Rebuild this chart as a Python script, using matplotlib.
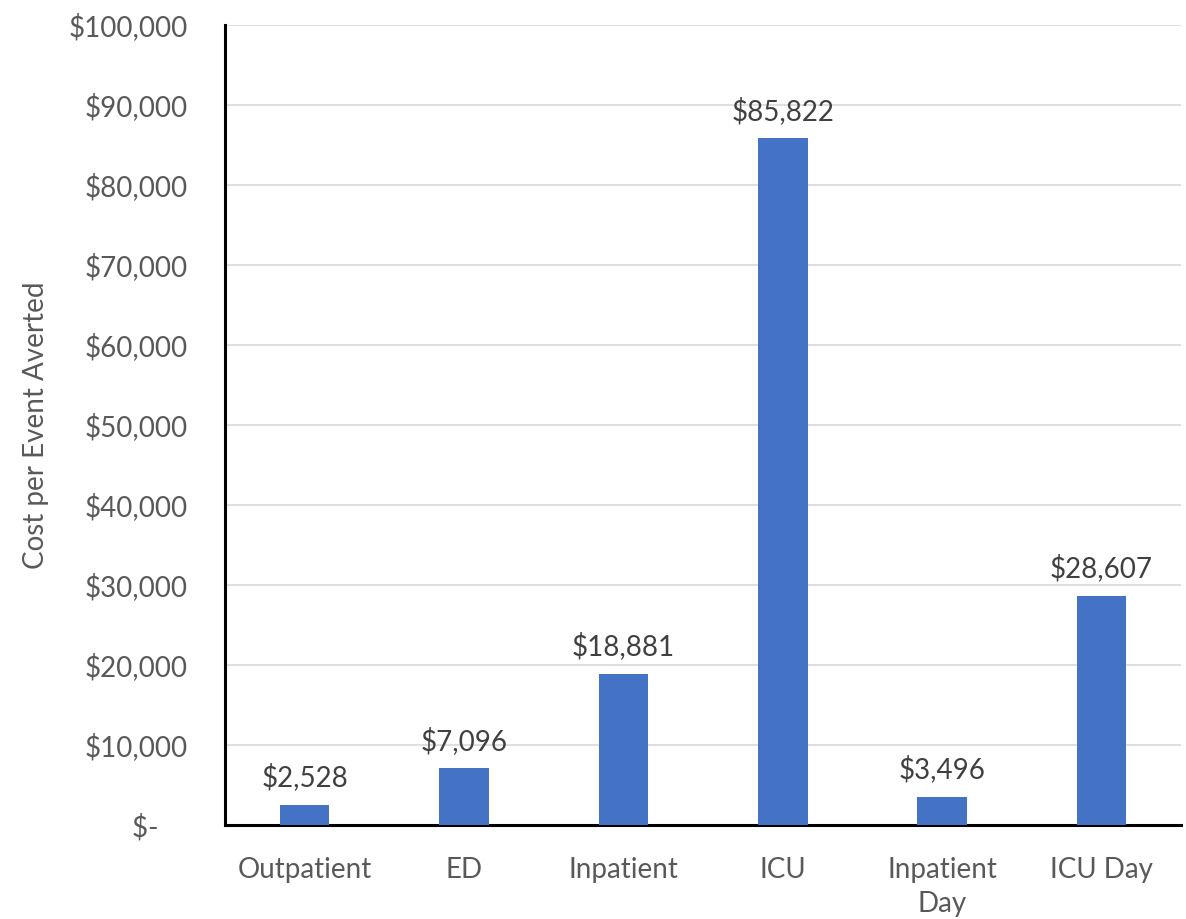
import matplotlib.pyplot as plt
from matplotlib.ticker import FuncFormatter

categories = ["Outpatient", "ED", "Inpatient", "ICU", "Inpatient\nDay", "ICU Day"]
costs = [2528, 7096, 18881, 85822, 3496, 28607]

plt.rcParams['font.family'] = ['Lato', 'DejaVu Sans']

fig = plt.figure(figsize=(11.86, 9.19), dpi=100)
ax = fig.add_axes([0.1897, 0.1023, 0.8063, 0.8705])

x = range(len(categories))
ax.bar(x, costs, width=0.31, color="#4472C4", zorder=3)

for xi, v in zip(x, costs):
    ax.text(xi, v + 1700, f"${v:,}", ha="center", va="bottom",
            fontsize=20, color="#404040")

def money(v, pos):
    if v == 0:
        return "$-    "
    return f"${int(v):,}"

ax.set_ylim(0, 100000)
ax.set_xlim(-0.5, 5.5)
ax.set_yticks(range(0, 100001, 10000))
ax.yaxis.set_major_formatter(FuncFormatter(money))
ax.set_xticks(list(x))
ax.set_xticklabels(categories)

ax.grid(axis="y", color="#d9d9d9", linewidth=1.2, zorder=0)
ax.tick_params(axis="both", length=0, labelsize=20, labelcolor="#595959")
ax.tick_params(axis="y", pad=27)
ax.tick_params(axis="x", pad=23)
for lbl in ax.get_xticklabels():
    lbl.set_linespacing(1.4)

ax.spines["top"].set_visible(False)
ax.spines["right"].set_visible(False)
ax.spines["left"].set_linewidth(2.2)
ax.spines["bottom"].set_linewidth(2.2)

ax.set_ylabel("Cost per Event Averted", fontsize=20, color="#595959")
ax.yaxis.set_label_coords(-0.184, 0.5)

fig.savefig("out.png", dpi=100)
